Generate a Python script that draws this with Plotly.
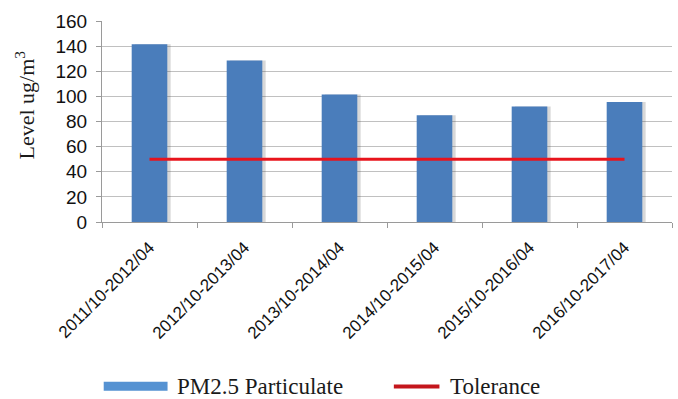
import plotly.graph_objects as go

# Seasonal averages (Oct-Apr) of PM2.5
periods = ["2011/10-2012/04", "2012/10-2013/04", "2013/10-2014/04",
           "2014/10-2015/04", "2015/10-2016/04", "2016/10-2017/04"]
pm25 = [141.5, 128.5, 101.5, 85, 92, 95.5]
tolerance = [50, 50, 50, 50, 50, 50]

BAR_BLUE = "#4a7dbb"
LINE_RED = "#e8141c"
GRID = "#c0c0c0"
AXIS = "#9a9a9a"
BAR_W = 0.375
SERIF = "Liberation Serif"
SANS = "Liberation Sans"

fig = go.Figure()

# soft drop shadow behind each column
fig.add_trace(go.Bar(
    x=periods, y=pm25, width=BAR_W, offset=-BAR_W / 2 + 0.035,
    marker=dict(color="rgba(60,60,60,0.2)", line=dict(width=0)),
    showlegend=False, hoverinfo="skip",
))
fig.add_trace(go.Bar(
    x=periods, y=pm25, width=BAR_W, offset=-BAR_W / 2,
    name="PM2.5 Particulate",
    marker=dict(color=BAR_BLUE, line=dict(width=0)),
    showlegend=False,
))
fig.add_trace(go.Scatter(
    x=periods, y=tolerance, mode="lines", name="Tolerance",
    line=dict(color=LINE_RED, width=3),
    showlegend=False,
))

fig.update_layout(
    width=678, height=399,
    margin=dict(l=102, r=6, t=21, b=177),
    paper_bgcolor="white", plot_bgcolor="white",
    barmode="overlay",
    font=dict(family=SANS, color="#1a1a1a"),
)

fig.update_xaxes(
    type="category", tickson="boundaries",
    ticks="outside", ticklen=5, tickcolor=AXIS,
    showline=True, linecolor=AXIS, linewidth=1,
    showgrid=False, tickangle=-45, ticklabelstandoff=8,
    tickfont=dict(size=17, family=SANS, color="#111111"),
)
fig.update_yaxes(
    range=[0, 160], dtick=20,
    ticks="outside", ticklen=5, tickcolor=AXIS,
    showline=True, linecolor=AXIS, linewidth=1,
    showgrid=True, gridcolor=GRID, gridwidth=1,
    zeroline=False, ticklabelstandoff=5,
    tickfont=dict(size=19, family=SANS, color="#111111"),
)

# y-axis title
fig.add_annotation(
    xref="paper", yref="paper", x=-0.135, y=0.58,
    text="Level ug/m<sup>3</sup>", textangle=-90, showarrow=False,
    font=dict(family=SERIF, size=22, color="#1a1a1a"),
    xanchor="center", yanchor="middle",
)

# legend row along the bottom
fig.add_shape(type="rect", xref="paper", yref="paper",
              x0=0.003, x1=0.115, y0=-0.84, y1=-0.795,
              fillcolor="#5592d2", line=dict(width=0))
fig.add_annotation(xref="paper", yref="paper", x=0.128, y=-0.818,
                   text="PM2.5 Particulate", showarrow=False,
                   xanchor="left", yanchor="middle",
                   font=dict(family=SERIF, size=23, color="#1a1a1a"))
fig.add_shape(type="line", xref="paper", yref="paper",
              x0=0.512, x1=0.592, y0=-0.818, y1=-0.818,
              line=dict(color="#c4161c", width=4))
fig.add_annotation(xref="paper", yref="paper", x=0.607, y=-0.818,
                   text="Tolerance", showarrow=False,
                   xanchor="left", yanchor="middle",
                   font=dict(family=SERIF, size=23, color="#1a1a1a"))

fig.write_html("out.html")
